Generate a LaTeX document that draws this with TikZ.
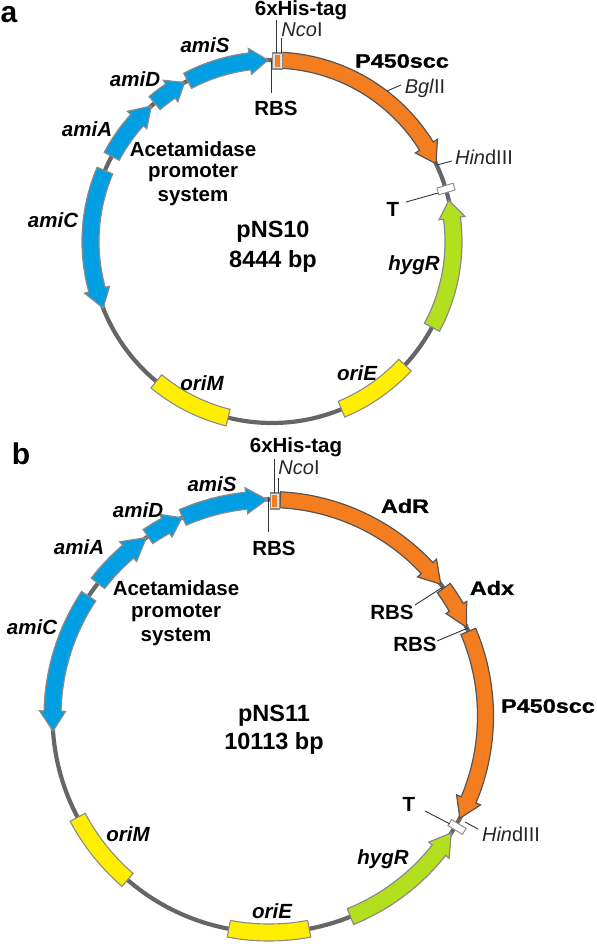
\documentclass[tikz,border=0pt]{standalone}
\usepackage{fontspec}
\setmainfont{Liberation Sans}
\newfontfamily\heavyfont{Liberation Sans}[BoldFeatures={FakeStretch=1.2,FakeBold=0.8}]
\definecolor{ringgray}{HTML}{666666}
\definecolor{genegray}{HTML}{8A8A8A}
\definecolor{darkedge}{HTML}{555555}
\definecolor{bluefill}{HTML}{009FE3}
\definecolor{orangefill}{HTML}{F47D20}
\definecolor{greenfill}{HTML}{B3E01E}
\definecolor{yellowfill}{HTML}{FFEE00}
\tikzset{
  ring/.style={draw=ringgray,line width=4.2pt},
  blueg/.style={draw=genegray,fill=bluefill,line width=1.2pt,line join=miter},
  orangeg/.style={draw=darkedge,fill=orangefill,line width=1.2pt,line join=miter},
  greeng/.style={draw=genegray,fill=greenfill,line width=1.2pt,line join=miter},
  yellowg/.style={draw=genegray,fill=yellowfill,line width=1.1pt,line join=miter},
  lead/.style={draw=black!80,line width=0.9pt},
  lbl/.style={inner sep=0pt,font=\fontsize{20.5}{24}\selectfont\bfseries,text=black,align=center},
  ital/.style={inner sep=0pt,font=\fontsize{20.5}{24}\selectfont\bfseries\itshape,text=black},
  site/.style={inner sep=0pt,font=\fontsize{20}{24}\selectfont,text=black!85},
  heavy/.style={inner sep=0pt,font=\fontsize{19.5}{23}\heavyfont\bfseries,text=black},
  big/.style={inner sep=0pt,font=\fontsize{23.5}{27}\selectfont\bfseries,text=black},
  panel/.style={inner sep=0pt,font=\fontsize{30}{32}\selectfont\bfseries},
  termbox/.style={draw=genegray,fill=white,line width=0.9pt,minimum width=17pt,minimum height=7pt,inner sep=0pt},
  tagbox/.style={draw=genegray,fill=black!12,line width=1.1pt,inner sep=0pt},
}
\newcommand{\px}[2]{({\cx+(\R+#2)*cos(#1)},{\cy-(\R+#2)*sin(#1)})}
% start, head base, tip, half width, head half width, style
\newcommand{\genearrow}[6]{%
  \draw[#6] plot[domain=#1:#2,samples=40] ({\cx+(\R+#4)*cos(\x)},{\cy-(\R+#4)*sin(\x)})
   -- \px{#2}{#5} -- \px{#3}{0} -- \px{#2}{-#5}
   -- plot[domain=#2:#1,samples=40] ({\cx+(\R-#4)*cos(\x)},{\cy-(\R-#4)*sin(\x)}) -- cycle;}
\newcommand{\bandseg}[4]{%
  \draw[#4] plot[domain=#1:#2,samples=40] ({\cx+(\R+#3)*cos(\x)},{\cy-(\R+#3)*sin(\x)})
   -- plot[domain=#2:#1,samples=40] ({\cx+(\R-#3)*cos(\x)},{\cy-(\R-#3)*sin(\x)}) -- cycle;}
\begin{document}
\begin{tikzpicture}[x=1pt,y=-1pt]
\useasboundingbox (0,0) rectangle (597,946);
% ---------- panel a ----------
\def\cx{272}\def\cy{241.5}\def\R{181.5}
\draw[ring] (\cx,\cy) circle[radius=\R];
\genearrow{157}{195.4}{201.5}{8.5}{13}{blueg}
\genearrow{152}{138}{131.7}{8.5}{13}{blueg}
\genearrow{130.3}{124}{118.8}{8.5}{13}{blueg}
\genearrow{117.7}{97}{91.3}{8.5}{13}{blueg}
\genearrow{-28.2}{7.4}{13.1}{8.5}{13}{greeng}
\bandseg{-67.5}{-42.9}{8.5}{yellowg}
\bandseg{230.4}{256}{8.5}{yellowg}
\genearrow{86.8}{31.7}{25.4}{8}{13}{orangeg}
\node[tagbox,minimum width=9.5pt,minimum height=16pt] (tagA) at (277.5,61) {};
\fill[orangefill] (274.5,55) rectangle (279.8,67);
\draw[white,line width=1pt,dotted] (281,55) -- (281,68);
\node[termbox,rotate=16.8] (termA) at (446,189) {};
\node[panel] (panelA) at (9,15) {a};
\node[lbl] (hisA) at (301,10) {6xHis-tag};
\node[site] (ncoA) at (302,30) {\textit{Nco}I};
\node[lbl] (rbsA) at (276,108) {RBS};
\node[heavy] (pA) at (402,61) {P450scc};
\node[site] (bglA) at (425,88) {\textit{Bgl}II};
\node[site] (hindA) at (484,157) {\textit{Hin}dIII};
\node[lbl] (tA) at (393,209) {T};
\node[ital] (amiSA) at (205,45) {amiS};
\node[ital] (amiDA) at (135,79) {amiD};
\node[ital] (amiAA) at (87,129) {amiA};
\node[ital] (amiCA) at (53,220) {amiC};
\node[ital] (hygA) at (414,265) {hygR};
\node[ital] (oriEA) at (357,373) {oriE};
\node[ital] (oriMA) at (202,383) {oriM};
\node[lbl] (aceA1) at (193,149) {Acetamidase};
\node[lbl] (aceA2) at (193,173) {promoter};
\node[lbl] (aceA3) at (193,197) {system};
\node[big] (nameA) at (273,232) {pNS10};
\node[big] (sizeA) at (273,261) {8444 bp};
\coordinate (a1) at (276,20); \coordinate (a2) at (276,53);
\coordinate (a3) at (281,38); \coordinate (a4) at (281,53);
\coordinate (a5) at (271,60); \coordinate (a6) at (271,93);
\coordinate (a7) at (387,91); \coordinate (a8) at (401,85);
\coordinate (a9) at (437,165); \coordinate (a10) at (452,161);
\coordinate (a11) at (406,202); \coordinate (a12) at (438,193);
\draw[lead] (a1) -- (a2); \draw[lead] (a3) -- (a4); \draw[lead] (a5) -- (a6);
\draw[lead] (a7) -- (a8); \draw[lead] (a9) -- (a10); \draw[lead] (a11) -- (a12);
% ---------- panel b ----------
\def\cx{269}\def\cy{716}\def\R{216.5}
\draw[ring] (\cx,\cy) circle[radius=\R];
\genearrow{146.4}{178.7}{184}{8.5}{13}{blueg}
\genearrow{142.2}{130.6}{124.5}{8.5}{13}{blueg}
\genearrow{124}{118.5}{113.7}{8.5}{13}{blueg}
\genearrow{113.5}{96}{90.5}{8.5}{13}{blueg}
\genearrow{-67.9}{-38.3}{-32.7}{8.5}{13}{greeng}
\bandseg{259.3}{280.7}{8.5}{yellowg}
\bandseg{207.9}{229.2}{8.5}{yellowg}
\genearrow{87}{43.1}{37.5}{8}{13}{orangeg}
\genearrow{36.2}{30.1}{24.2}{8}{12}{orangeg}
\genearrow{23}{-22.8}{-28.2}{8}{13}{orangeg}
\node[tagbox,minimum width=9.5pt,minimum height=16pt] (tagB) at (275,501) {};
\fill[orangefill] (272,495) rectangle (277,507);
\draw[white,line width=1pt,dotted] (278.5,495) -- (278.5,508);
\node[termbox,rotate=-31] (termB) at (457,827) {};
\node[panel] (panelB) at (21,454) {b};
\node[lbl] (hisB) at (296,447) {6xHis-tag};
\node[site] (ncoB) at (299,468) {\textit{Nco}I};
\node[lbl] (rbsB) at (274,548) {RBS};
\node[heavy] (adrB) at (405,506) {AdR};
\node[heavy] (adxB) at (492,588) {Adx};
\node[heavy] (pB) at (548,706) {P450scc};
\node[lbl] (rbsB1) at (392,612) {RBS};
\node[lbl] (rbsB2) at (415,644) {RBS};
\node[site] (hindB) at (511,834) {\textit{Hin}dIII};
\node[lbl] (tB) at (409,804) {T};
\node[ital] (amiSB) at (212,484) {amiS};
\node[ital] (amiDB) at (138,510) {amiD};
\node[ital] (amiAB) at (79,547) {amiA};
\node[ital] (amiCB) at (32,627) {amiC};
\node[ital] (hygB) at (383,859) {hygR};
\node[ital] (oriEB) at (272,911) {oriE};
\node[ital] (oriMB) at (128,834) {oriM};
\node[lbl] (aceB1) at (176,588) {Acetamidase};
\node[lbl] (aceB2) at (176,613) {promoter};
\node[lbl] (aceB3) at (176,637) {system};
\node[big] (nameB) at (274,716) {pNS11};
\node[big] (sizeB) at (274,743) {10113 bp};
\coordinate (b1) at (274,459); \coordinate (b2) at (274,493);
\coordinate (b3) at (278,478); \coordinate (b4) at (278,493);
\coordinate (b5) at (268,497); \coordinate (b6) at (268,532);
\coordinate (b7) at (415,605); \coordinate (b8) at (443,587);
\coordinate (b9) at (437,641); \coordinate (b10) at (468,628);
\coordinate (b11) at (425,811); \coordinate (b12) at (450,824);
\coordinate (b13) at (465,822); \coordinate (b14) at (478,829);
\draw[lead] (b1) -- (b2); \draw[lead] (b3) -- (b4); \draw[lead] (b5) -- (b6);
\draw[lead] (b7) -- (b8); \draw[lead] (b9) -- (b10); \draw[lead] (b11) -- (b12);
\draw[lead] (b13) -- (b14);
\end{tikzpicture}
\end{document}
